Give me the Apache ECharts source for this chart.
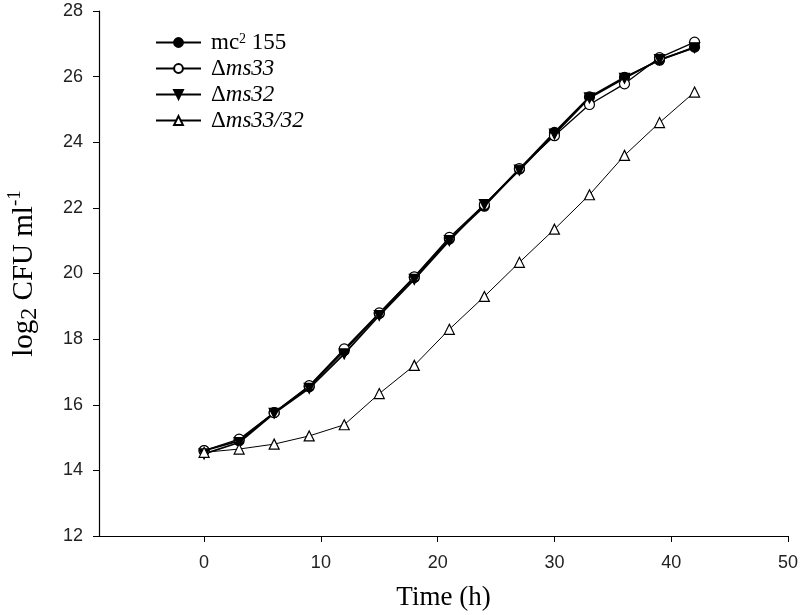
<!DOCTYPE html>
<html>
<head>
<meta charset="utf-8">
<script src="https://cdn.jsdelivr.net/npm/echarts@6/dist/echarts.min.js"></script>
<style>html,body{margin:0;padding:0;background:#fff}#c{width:800px;height:615px}</style>
</head>
<body>
<div id="c"></div>
<script>
const times = [0, 3, 6, 9, 12, 15, 18, 21, 24, 27, 30, 33, 36, 39, 42];
const mc2155 = [14.6, 14.9, 15.76, 16.55, 17.65, 18.78, 19.88, 21.05, 22.05, 23.18, 24.3, 25.38, 25.98, 26.5, 26.9];
const dms33 = [14.6, 14.95, 15.76, 16.58, 17.7, 18.8, 19.9, 21.1, 22.1, 23.2, 24.2, 25.15, 25.78, 26.58, 27.05];
const dms32 = [14.5, 14.85, 15.74, 16.5, 17.55, 18.72, 19.82, 21.0, 22.1, 23.15, 24.25, 25.35, 25.95, 26.52, 26.88];
const dms3332 = [14.55, 14.65, 14.8, 15.05, 15.39, 16.34, 17.2, 18.3, 19.3, 20.34, 21.35, 22.4, 23.6, 24.6, 25.53];
const xTicks = [0, 10, 20, 30, 40, 50];
const seriesNames = ['mc2 155', 'Δms33', 'Δms32', 'Δms33/32'];

function pairs(vals) { return times.map((t, i) => [t, vals[i]]); }

const chart = echarts.init(document.getElementById('c'), null, {renderer: 'canvas'});
const serif = 'Liberation Serif';
const sans = 'Liberation Sans';

function mk(name, vals, symbol, fill, rot, lw) {
  return {
    name: name, type: 'line', data: pairs(vals),
    symbol: symbol, symbolSize: 10, symbolRotate: rot || 0,
    showSymbol: true,
    lineStyle: {color: '#000', width: lw},
    itemStyle: {color: fill, borderColor: '#000', borderWidth: 1.2},
    z: 2, animation: false
  };
}

chart.setOption({
  animation: false,
  backgroundColor: '#fff',
  grid: {left: 99, right: 12, top: 11, bottom: 79, outerBoundsMode: 'none', containLabel: false},
  legend: {
    left: 150, top: 26, orient: 'vertical',
    itemWidth: 45, itemHeight: 11, itemGap: 3,
    data: seriesNames,
    textStyle: {
      fontFamily: serif, fontSize: 23, color: '#000', lineHeight: 21, padding: [0, 0, 0, 5],
      rich: {
        n: {fontFamily: serif, fontSize: 23, color: '#000', lineHeight: 21},
        i: {fontFamily: serif, fontSize: 23, fontStyle: 'italic', color: '#000', lineHeight: 21},
        sup: {fontFamily: serif, fontSize: 14, color: '#000', verticalAlign: 'top', lineHeight: 14, padding: [0, 0, 6, 0]}
      }
    },
    formatter: function (name) {
      if (name === 'mc2 155') return '{n|mc}{sup|2}{n| 155}';
      return '{n|Δ}{i|' + name.slice(1) + '}';
    }
  },
  xAxis: {
    type: 'value', min: -9, max: 50,
    name: 'Time (h)', nameLocation: 'middle', nameGap: 48,
    nameTextStyle: {fontFamily: serif, fontSize: 27, color: '#000'},
    axisLine: {show: true, onZero: false, lineStyle: {color: '#000', width: 1.2}},
    axisTick: {show: true, customValues: xTicks, length: 6, inside: false, lineStyle: {color: '#000'}},
    axisLabel: {customValues: xTicks, fontFamily: sans, fontSize: 18, color: '#222', margin: 18},
    splitLine: {show: false}
  },
  yAxis: {
    type: 'value', min: 12, max: 28, interval: 2,
    name: '{n|log}{sub|2}{n| CFU ml}{sup|-1}', nameLocation: 'middle', nameGap: 57, nameRotate: 90,
    nameTextStyle: {
      fontFamily: serif, fontSize: 29, color: '#000',
      rich: {
        n: {fontFamily: serif, fontSize: 29, color: '#000'},
        sub: {fontFamily: serif, fontSize: 24, color: '#000', verticalAlign: 'bottom', padding: [12, 0, 0, 0]},
        sup: {fontFamily: serif, fontSize: 19, color: '#000', verticalAlign: 'top', padding: [0, 0, 12, 0]}
      }
    },
    axisLine: {show: true, onZero: false, lineStyle: {color: '#000', width: 1.2}},
    axisTick: {show: true, length: 6, lineStyle: {color: '#000'}},
    axisLabel: {fontFamily: sans, fontSize: 18, color: '#222', margin: 16},
    splitLine: {show: false}
  },
  series: [
    mk(seriesNames[0], mc2155, 'circle', '#000', 0, 1.8),
    mk(seriesNames[1], dms33, 'circle', '#fff', 0, 1.3),
    mk(seriesNames[2], dms32, 'triangle', '#000', 180, 1.8),
    mk(seriesNames[3], dms3332, 'triangle', '#fff', 0, 1)
  ]
});
</script>
</body>
</html>
